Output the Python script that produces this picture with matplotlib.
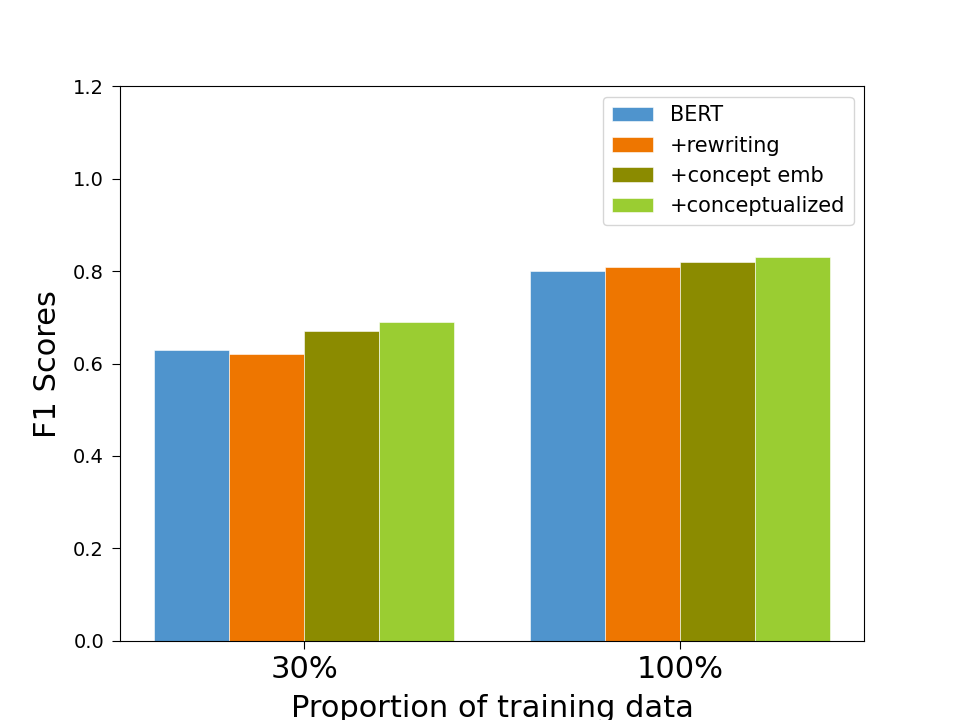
import matplotlib
matplotlib.use("Agg")
import matplotlib.pyplot as plt
import numpy as np

groups = ["30%", "100%"]
series_names = ["BERT", "+rewriting", "+concept emb", "+conceptualized"]
bert = [0.63, 0.80]
rewriting = [0.62, 0.81]
concept_emb = [0.67, 0.82]
conceptualized = [0.69, 0.83]
colors = ["#4f94cd", "#ee7600", "#8b8b00", "#9acd32"]

fig, ax = plt.subplots(figsize=(9.6, 7.2), dpi=100)
x = np.arange(len(groups))
width = 0.2
data = [bert, rewriting, concept_emb, conceptualized]
for i, (vals, name, c) in enumerate(zip(data, series_names, colors)):
    ax.bar(x + (i - 1.5) * width, vals, width, label=name, color=c,
           edgecolor="white", linewidth=0.4)

ax.set_ylim(0, 1.2)
ax.set_xticks(x)
ax.set_xticklabels(groups, fontsize=22)
ax.tick_params(axis="y", labelsize=14, length=5.5, pad=6)
ax.tick_params(axis="x", length=5.5, pad=5)
ax.set_xlabel("Proportion of training data", fontsize=22, labelpad=7)
ax.set_ylabel("F1 Scores", fontsize=22, labelpad=8)
ax.legend(fontsize=15)
fig.savefig("out.png", dpi=100)
